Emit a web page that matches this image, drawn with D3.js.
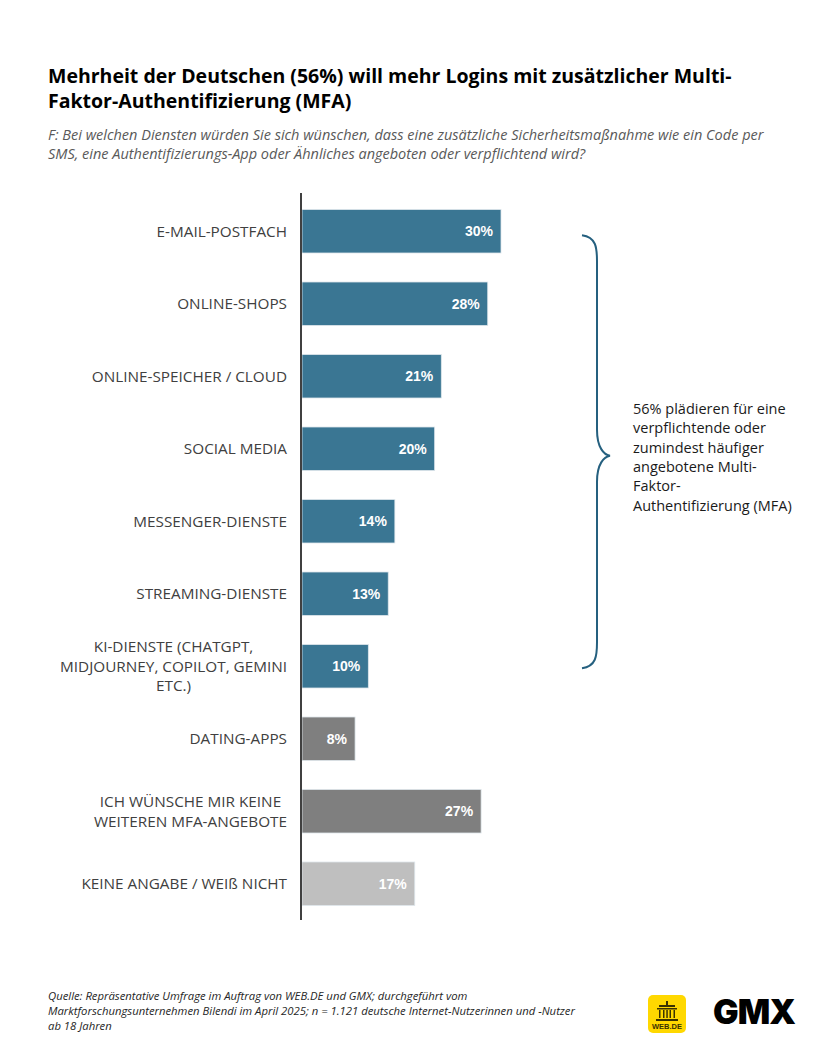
<!DOCTYPE html>
<html>
<head>
<meta charset="utf-8">
<script src="https://cdn.jsdelivr.net/npm/d3@7"></script>
<style>
  body { margin: 0; background: #fff; }
  svg { display: block; }
</style>
</head>
<body>
<script>
var categories = [
  "E-MAIL-POSTFACH",
  "ONLINE-SHOPS",
  "ONLINE-SPEICHER / CLOUD",
  "SOCIAL MEDIA",
  "MESSENGER-DIENSTE",
  "STREAMING-DIENSTE",
  "KI-DIENSTE (CHATGPT,\nMIDJOURNEY, COPILOT, GEMINI\nETC.)",
  "DATING-APPS",
  "ICH WÜNSCHE MIR KEINE\nWEITEREN MFA-ANGEBOTE",
  "KEINE ANGABE / WEIß NICHT"
];
var values = [30, 28, 21, 20, 14, 13, 10, 8, 27, 17];
var groups = ["mfa", "mfa", "mfa", "mfa", "mfa", "mfa", "mfa", "other", "none", "unknown"];

var title_lines = [
  "Mehrheit der Deutschen (56%) will mehr Logins mit zusätzlicher Multi-",
  "Faktor-Authentifizierung (MFA)"
];
var question_lines = [
  "F: Bei welchen Diensten würden Sie sich wünschen, dass eine zusätzliche Sicherheitsmaßnahme wie ein Code per",
  "SMS, eine Authentifizierungs-App oder Ähnliches angeboten oder verpflichtend wird?"
];
var brace_lines = [
  "56% plädieren für eine",
  "verpflichtende oder",
  "zumindest häufiger",
  "angebotene Multi-",
  "Faktor-",
  "Authentifizierung (MFA)"
];
var source_lines = [
  "Quelle: Repräsentative Umfrage im Auftrag von WEB.DE und GMX; durchgeführt vom",
  "Marktforschungsunternehmen Bilendi im April 2025; n = 1.121 deutsche Internet-Nutzerinnen und -Nutzer",
  "ab 18 Jahren"
];

var colors = { mfa: "#3a7693", other: "#7f7f7f", none: "#7f7f7f", unknown: "#bfbfbf" };
var label_font = "'Open Sans', 'Noto Sans', sans-serif";

var width = 833, height = 1040;
var svg = d3.select("body").append("svg")
  .attr("width", width).attr("height", height);

// title + question
svg.append("g").selectAll("text").data(title_lines).enter().append("text")
  .attr("x", 48).attr("y", function(d, i) { return 83 + i * 24.5; })
  .style("font-family", label_font)
  .style("font-weight", "bold")
  .style("font-size", "19.5px")
  .attr("fill", "#000")
  .text(function(d) { return d; });

svg.append("g").selectAll("text").data(question_lines).enter().append("text")
  .attr("x", 48).attr("y", function(d, i) { return 140 + i * 19; })
  .style("font-family", label_font)
  .style("font-style", "italic")
  .style("font-size", "14.5px")
  .attr("fill", "#595959")
  .text(function(d) { return d; });

// scales
var x = d3.scaleLinear().domain([0, 30]).range([302, 501]);
var y = d3.scaleBand().domain(categories).range([195, 920])
  .paddingInner(0.4).paddingOuter(0.2);

var bars = svg.append("g");
bars.selectAll("rect").data(categories).enter().append("rect")
  .attr("x", x(0))
  .attr("y", function(d) { return y(d); })
  .attr("width", function(d, i) { return x(values[i]) - x(0); })
  .attr("height", y.bandwidth())
  .attr("fill", function(d, i) { return colors[groups[i]]; })
  .attr("stroke", "#dfe7ec")
  .attr("stroke-width", 0.8);

bars.selectAll("text.val").data(categories).enter().append("text")
  .attr("class", "val")
  .attr("x", function(d, i) { return x(values[i]) - 8; })
  .attr("y", function(d) { return y(d) + y.bandwidth() / 2 + 5; })
  .attr("text-anchor", "end")
  .style("font-family", "'Liberation Sans', Arial, sans-serif")
  .style("font-weight", "bold")
  .style("font-size", "14px")
  .attr("fill", "#fff")
  .text(function(d, i) { return values[i] + "%"; });

// category labels: block right-aligned at 287, lines centred inside it
var labels = svg.append("g");
categories.forEach(function(c) {
  var lines = c.split("\n");
  var cy = y(c) + y.bandwidth() / 2;
  var t = labels.append("text")
    .style("font-family", label_font)
    .style("font-size", "15.3px")
    .attr("fill", "#404040");
  var spans = lines.map(function(l, j) {
    return t.append("tspan")
      .attr("y", cy + 5.5 + (j - (lines.length - 1) / 2) * 19.5)
      .text(l);
  });
  var w = d3.max(spans, function(s) { return s.node().getComputedTextLength(); });
  t.attr("text-anchor", "middle");
  spans.forEach(function(s) { s.attr("x", 287 - w / 2); });
});

// axis line
svg.append("line")
  .attr("x1", 301).attr("x2", 301)
  .attr("y1", 193).attr("y2", 920)
  .attr("stroke", "#404040").attr("stroke-width", 2);

// brace over the MFA group
var mfa = categories.filter(function(d, i) { return groups[i] === "mfa"; });
var by0 = y(mfa[0]) + y.bandwidth() / 2 + 4;
var by1 = y(mfa[mfa.length - 1]) + y.bandwidth() / 2 + 2;
var bmid = (by0 + by1) / 2 + 4;
var bx = 582;
svg.append("path")
  .attr("d", "M" + bx + "," + by0 +
    " C" + (bx + 14) + "," + (by0 + 2) + " " + (bx + 15) + "," + (by0 + 12) + " " + (bx + 15) + "," + (by0 + 26) +
    " L" + (bx + 15) + "," + (bmid - 26) +
    " C" + (bx + 15) + "," + (bmid - 8) + " " + (bx + 22) + "," + (bmid - 1) + " " + (bx + 28) + "," + bmid +
    " C" + (bx + 22) + "," + (bmid + 1) + " " + (bx + 15) + "," + (bmid + 8) + " " + (bx + 15) + "," + (bmid + 26) +
    " L" + (bx + 15) + "," + (by1 - 26) +
    " C" + (bx + 15) + "," + (by1 - 12) + " " + (bx + 14) + "," + (by1 - 2) + " " + bx + "," + by1)
  .attr("fill", "none")
  .attr("stroke", "#25607f")
  .attr("stroke-width", 2);

svg.append("g").selectAll("text").data(brace_lines).enter().append("text")
  .attr("x", 633).attr("y", function(d, i) { return 414 + i * 19.3; })
  .style("font-family", label_font)
  .style("font-size", "14.5px")
  .attr("fill", "#1a1a1a")
  .text(function(d) { return d; });

// source
svg.append("g").selectAll("text").data(source_lines).enter().append("text")
  .attr("x", 48).attr("y", function(d, i) { return 1000 + i * 15; })
  .style("font-family", label_font)
  .style("font-style", "italic")
  .style("font-size", "11.3px")
  .attr("fill", "#262626")
  .text(function(d) { return d; });

// logos
var web = svg.append("g").attr("transform", "translate(648,995)");
web.append("rect").attr("width", 38).attr("height", 38).attr("rx", 5)
  .attr("fill", "#ffd800");
web.append("path")
  .attr("d", "M11,10 L27,10 L27,12 L11,12 Z M9,13 L29,13 L29,14.5 L9,14.5 Z" +
    " M11,15 L12.5,15 L12.5,23 L11,23 Z M15,15 L16.5,15 L16.5,23 L15,23 Z" +
    " M18.3,15 L19.8,15 L19.8,23 L18.3,23 Z M21.5,15 L23,15 L23,23 L21.5,23 Z" +
    " M25.5,15 L27,15 L27,23 L25.5,23 Z M8,24 L30,24 L30,26 L8,26 Z M18,6 L20,6 L20,10 L18,10 Z")
  .attr("fill", "#3a3200");
web.append("text").attr("x", 19).attr("y", 34)
  .attr("text-anchor", "middle")
  .style("font-family", "'Liberation Sans', Arial, sans-serif")
  .style("font-weight", "bold")
  .style("font-size", "7.5px")
  .attr("fill", "#3a3200")
  .text("WEB.DE");

svg.append("text").attr("x", 754).attr("y", 1024)
  .attr("text-anchor", "middle")
  .style("font-family", "Inter, 'Liberation Sans', sans-serif")
  .style("font-weight", "900")
  .style("font-size", "34px")
  .style("letter-spacing", "-1px")
  .attr("fill", "#000")
  .text("GMX");
</script>
</body>
</html>
